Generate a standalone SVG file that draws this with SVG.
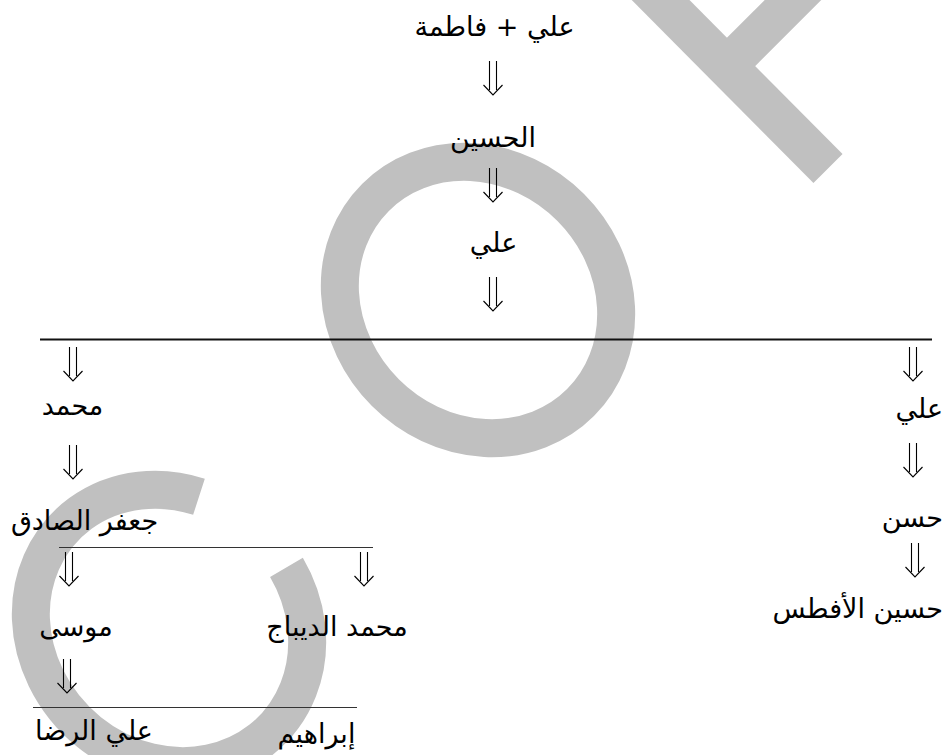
<svg xmlns="http://www.w3.org/2000/svg" width="945" height="755" viewBox="0 0 945 755">
<style>
.wm{fill:none;stroke:#c0c0c0;}
.t{font-family:"DejaVu Sans","Noto Sans",sans-serif;font-size:27px;fill:#000;direction:rtl;text-anchor:middle;}
.r{text-anchor:start;}
.bar{stroke:#111;stroke-width:2.2;}
.thin{stroke:#333;stroke-width:1;}
.arr{fill:none;stroke:#000;stroke-width:1.1;}
</style>
<defs>
<path id="arrow" class="arr" d="M -3.5 0 V 29 M 3.5 0 V 29 M -9.5 24 L 0 34 L 9.5 24"/>
</defs>
<rect width="945" height="755" fill="#fff"/>
<g id="watermark">
<ellipse class="wm" cx="478" cy="300" rx="145" ry="131" transform="rotate(45 478 300)" stroke-width="38"/>
<path class="wm" transform="translate(169 628) rotate(45)" d="M -71.6 -114 A 145 131 0 1 0 40.2 -125.9" stroke-width="38"/>
<line class="wm" x1="600" y1="-61" x2="828" y2="168.5" stroke-width="41"/>
<line class="wm" x1="727" y1="66" x2="870" y2="-77" stroke-width="40"/>
</g>
<g id="connectors">
<line class="bar" x1="40" y1="339.5" x2="932" y2="339.5"/>
<line class="thin" x1="59" y1="547.5" x2="373" y2="547.5"/>
<line class="thin" x1="33" y1="707.5" x2="357" y2="707.5"/>
<use href="#arrow" x="493" y="61"/>
<use href="#arrow" x="493" y="168"/>
<use href="#arrow" x="493" y="277"/>
<use href="#arrow" x="73" y="347"/>
<use href="#arrow" x="73" y="445"/>
<use href="#arrow" x="69" y="552"/>
<use href="#arrow" x="364" y="552"/>
<use href="#arrow" x="67" y="659"/>
<use href="#arrow" x="913" y="347"/>
<use href="#arrow" x="913" y="443"/>
<use href="#arrow" x="915" y="543"/>
</g>
<g id="n-ali-fatima"><text class="t" x="494.5" y="36">علي + فاطمة</text></g>
<g id="n-husayn"><text class="t" x="493" y="147">الحسين</text></g>
<g id="n-ali"><text class="t" x="493.5" y="252">علي</text></g>
<g id="n-muhammad"><text class="t" x="72.5" y="415">محمد</text></g>
<g id="n-jafar"><text class="t" x="84.5" y="530">جعفر الصادق</text></g>
<g id="n-musa"><text class="t" x="76" y="636">موسى</text></g>
<g id="n-dibaj"><text class="t" x="337" y="636">محمد الديباج</text></g>
<g id="n-rida"><text class="t" x="94" y="740">علي الرضا</text></g>
<g id="n-ibrahim"><text class="t" x="316.5" y="743">إبراهيم</text></g>
<g id="n-ali2"><text class="t r" x="943" y="418">علي</text></g>
<g id="n-hasan"><text class="t r" x="943" y="527">حسن</text></g>
<g id="n-aftas"><text class="t r" x="943" y="618">حسين الأفطس</text></g>
</svg>
